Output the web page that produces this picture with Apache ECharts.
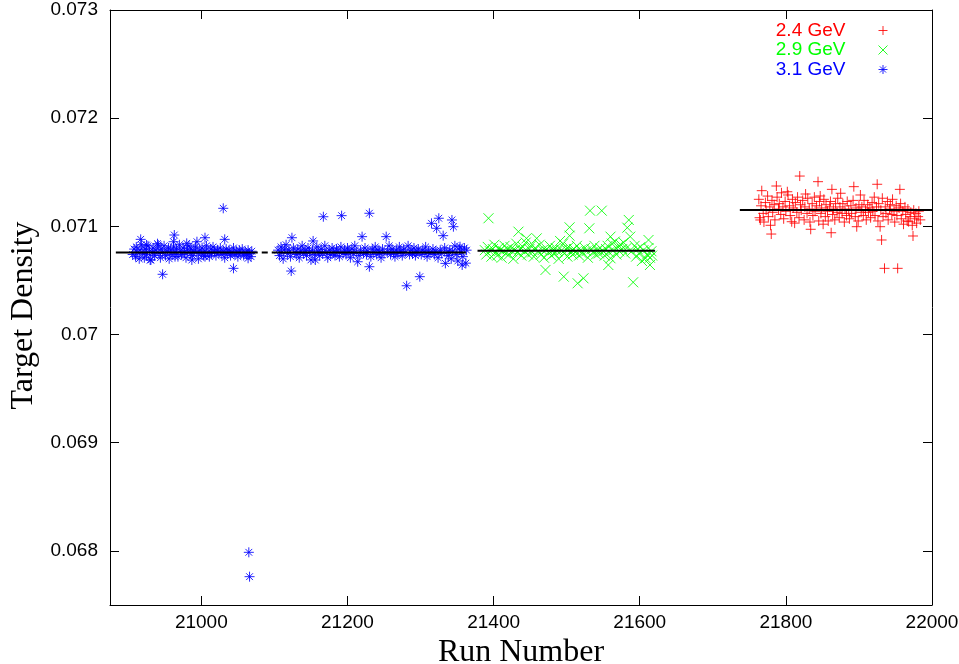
<!DOCTYPE html>
<html>
<head>
<meta charset="utf-8">
<script src="https://cdn.jsdelivr.net/npm/echarts@6/dist/echarts.min.js"></script>
<style>html,body{margin:0;padding:0;background:#fff}#c{width:959px;height:664px}</style>
</head>
<body>
<div id="c"></div>
<script>
const xTicks = [21000, 21200, 21400, 21600, 21800, 22000];
const yTicks = [0.068, 0.069, 0.07, 0.071, 0.072, 0.073];
const seriesNames = ['2.4 GeV', '2.9 GeV', '3.1 GeV'];

// 3.1 GeV (blue asterisks)
const blue31 = [
[20906,0.07074],[20908,0.07079],[20910,0.07072],[20911,0.07081],[20913,0.07076],[20915,0.07070],[20916,0.07078],[20918,0.07083],[20920,0.07075],[20922,0.07071],
[20923,0.07079],[20925,0.07074],[20927,0.07082],[20929,0.07077],[20931,0.07069],[20933,0.07076],[20934,0.07080],[20936,0.07073],[20938,0.07078],[20940,0.07084],
[20942,0.07075],[20944,0.07071],[20945,0.07079],[20947,0.07076],[20949,0.07082],[20951,0.07073],[20953,0.07077],[20955,0.07080],[20956,0.07070],[20958,0.07078],
[20960,0.07074],[20962,0.07081],[20964,0.07076],[20966,0.07079],[20968,0.07072],[20970,0.07083],[20971,0.07077],[20973,0.07074],[20975,0.07080],[20977,0.07076],
[20979,0.07071],[20981,0.07078],[20983,0.07082],[20985,0.07075],[20986,0.07079],[20988,0.07073],[20990,0.07077],[20992,0.07081],[20994,0.07076],[20996,0.07070],
[20998,0.07078],[21000,0.07075],[21001,0.07080],[21003,0.07073],[21005,0.07077],[21007,0.07082],[21009,0.07076],[21011,0.07072],[21013,0.07079],[21014,0.07075],
[21016,0.07081],[21018,0.07077],[21020,0.07073],[21022,0.07078],[21024,0.07076],[21026,0.07080],[21028,0.07074],[21030,0.07077],[21032,0.07071],[21034,0.07079],
[21036,0.07075],[21038,0.07078],[21040,0.07073],[21042,0.07076],[21044,0.07080],[21046,0.07074],[21048,0.07077],[21050,0.07072],[21052,0.07078],[21054,0.07075],
[21056,0.07079],[21058,0.07073],[21060,0.07076],[21062,0.07074],[21064,0.07078],[21066,0.07075],[21068,0.07072],[21069,0.07077],
[21030,0.071167],[20947,0.070557],[21044,0.070612],[20917,0.070880],[20963,0.070920],[20962,0.070858],[21005,0.070895],[21032,0.070880],[20980,0.070843],[20994,0.070858],
[20925,0.070828],[20941,0.070828],[20930,0.070689],[20987,0.070689],[20964,0.070720],[21005,0.070720],[21064,0.070705],[21065,0.067987],[21066,0.067762],
[21105,0.07078],[21107,0.07073],[21109,0.07081],[21110,0.07076],[21112,0.07070],[21114,0.07079],[21116,0.07083],[21118,0.07075],[21120,0.07078],[21122,0.07072],
[21126,0.07080],[21128,0.07076],[21130,0.07074],[21132,0.07079],[21134,0.07071],[21136,0.07077],[21138,0.07082],[21140,0.07075],[21142,0.07078],[21144,0.07073],
[21146,0.07080],[21148,0.07076],[21150,0.07069],[21152,0.07078],[21155,0.07074],[21158,0.07081],[21160,0.07077],[21162,0.07073],[21164,0.07079],[21166,0.07075],
[21169,0.07082],[21171,0.07076],[21173,0.07071],[21175,0.07078],[21177,0.07074],[21179,0.07080],[21181,0.07076],[21183,0.07073],[21185,0.07079],[21187,0.07077],
[21189,0.07072],[21191,0.07081],[21194,0.07075],[21196,0.07078],[21198,0.07074],[21200,0.07080],[21202,0.07077],[21204,0.07071],[21206,0.07079],[21208,0.07075],
[21210,0.07082],[21212,0.07076],[21216,0.07073],[21218,0.07078],[21222,0.07075],[21224,0.07080],[21226,0.07074],[21228,0.07077],[21232,0.07072],[21234,0.07079],
[21236,0.07076],[21238,0.07081],[21240,0.07074],[21242,0.07078],[21244,0.07076],[21246,0.07071],[21248,0.07079],[21250,0.07075],[21255,0.07077],[21257,0.07082],
[21259,0.07074],[21261,0.07079],[21263,0.07076],[21265,0.07072],[21267,0.07078],[21269,0.07075],[21271,0.07081],[21273,0.07077],[21275,0.07073],[21277,0.07079],
[21279,0.07076],[21283,0.07082],[21285,0.07074],[21287,0.07078],[21289,0.07075],[21291,0.07080],[21293,0.07073],[21295,0.07077],[21297,0.07079],[21301,0.07074],
[21303,0.07078],[21305,0.07076],[21307,0.07081],[21309,0.07072],[21311,0.07077],[21313,0.07075],[21317,0.07079],[21319,0.07074],[21321,0.07077],[21324,0.07071],
[21327,0.07078],[21329,0.07075],[21333,0.07080],[21336,0.07076],[21338,0.07073],[21340,0.07078],[21342,0.07070],[21344,0.07077],[21347,0.07082],[21349,0.07074],
[21351,0.07068],[21353,0.07079],[21356,0.07076],[21358,0.07072],[21360,0.07080],[21362,0.07066],[21363,0.07078],
[21167,0.071089],[21192,0.071099],[21230,0.071121],[21315,0.071028],[21325,0.071075],[21322,0.070982],[21331,0.070914],[21343,0.071059],[21345,0.070997],[21124,0.070895],
[21153,0.070865],[21220,0.070905],[21253,0.070905],[21123,0.070587],[21230,0.070627],[21281,0.070451],[21299,0.070535],[21214,0.070673],[21334,0.070658],[21357,0.070643],
[21156,0.070689],[21354,0.070812]
];

// 2.9 GeV (green crosses)
const green29 = [
[21388,0.07078],[21390,0.07074],[21392,0.07081],[21395,0.07077],[21397,0.07072],[21399,0.07079],[21401,0.07083],[21403,0.07076],[21405,0.07073],[21407,0.07080],
[21409,0.07078],[21411,0.07071],[21413,0.07077],[21415,0.07082],[21417,0.07075],[21419,0.07079],[21421,0.07074],[21423,0.07081],[21425,0.07077],[21427,0.07070],
[21429,0.07078],[21431,0.07084],[21433,0.07076],[21436,0.07079],[21438,0.07073],[21440,0.07081],[21442,0.07077],[21444,0.07085],[21447,0.07074],[21449,0.07079],
[21451,0.07082],[21453,0.07076],[21455,0.07072],[21457,0.07080],[21461,0.07077],[21463,0.07083],[21465,0.07074],[21467,0.07078],[21469,0.07071],[21473,0.07079],
[21475,0.07076],[21477,0.07082],[21479,0.07073],[21481,0.07078],[21483,0.07075],[21485,0.07080],[21487,0.07077],[21489,0.07070],[21493,0.07078],[21495,0.07084],
[21497,0.07075],[21499,0.07079],[21501,0.07072],[21503,0.07081],[21506,0.07077],[21508,0.07074],[21510,0.07079],[21512,0.07076],[21514,0.07082],[21517,0.07073],
[21519,0.07078],[21521,0.07075],[21525,0.07080],[21527,0.07077],[21529,0.07071],[21534,0.07079],[21536,0.07076],[21538,0.07082],[21540,0.07074],[21542,0.07078],
[21544,0.07075],[21546,0.07080],[21550,0.07077],[21552,0.07073],[21554,0.07079],[21556,0.07082],[21558,0.07076],[21562,0.07084],[21564,0.07078],[21566,0.07086],
[21568,0.07074],[21570,0.07081],[21572,0.07077],[21574,0.07083],[21576,0.07079],[21578,0.07085],[21580,0.07075],[21582,0.07080],[21589,0.07077],[21593,0.07082],
[21595,0.07072],[21597,0.07079],[21599,0.07075],[21601,0.07081],[21603,0.07068],[21605,0.07078],[21610,0.07074],[21612,0.07080],[21614,0.07071],[21616,0.07077],
[21617,0.07073],
[21393,0.071075],[21434,0.070951],[21532,0.071145],[21548,0.071145],[21504,0.070991],[21504,0.070914],[21531,0.070982],[21585,0.071059],[21583,0.070988],[21587,0.070905],
[21612,0.070874],[21445,0.070889],[21459,0.070889],[21491,0.070865],[21560,0.070905],[21471,0.070597],[21496,0.070535],[21515,0.070474],[21523,0.070520],[21591,0.070483],
[21557,0.070643],[21614,0.070643],[21560,0.070705],[21608,0.070705]
];

// 2.4 GeV (red plus)
const red24 = [
[21763,0.07125],[21764,0.07108],[21766,0.07119],[21767,0.07133],[21769,0.07112],[21770,0.07104],[21772,0.07122],[21773,0.07115],[21775,0.07128],[21776,0.07109],
[21778,0.07118],[21779,0.07101],[21781,0.07124],[21782,0.07113],[21784,0.07120],[21785,0.07106],[21788,0.07127],[21790,0.07116],[21791,0.07121],[21793,0.07111],
[21794,0.07131],[21796,0.07118],[21797,0.07107],[21799,0.07123],[21800,0.07114],[21803,0.07129],[21805,0.07119],[21806,0.07110],[21809,0.07125],[21810,0.07117],
[21812,0.07103],[21813,0.07122],[21815,0.07113],[21816,0.07127],[21818,0.07108],[21820,0.07120],[21821,0.07115],[21823,0.07124],[21825,0.07106],[21826,0.07118],
[21829,0.07112],[21830,0.07126],[21832,0.07116],[21833,0.07104],[21836,0.07121],[21837,0.07110],[21839,0.07127],[21840,0.07114],[21842,0.07119],[21845,0.07105],
[21846,0.07123],[21848,0.07112],[21849,0.07117],[21851,0.07102],[21852,0.07125],[21854,0.07109],[21855,0.07120],[21857,0.07114],[21858,0.07105],[21860,0.07118],
[21861,0.07123],[21864,0.07111],[21865,0.07116],[21867,0.07106],[21868,0.07121],[21870,0.07113],[21871,0.07126],[21873,0.07108],[21874,0.07118],[21877,0.07112],
[21878,0.07121],[21880,0.07104],[21881,0.07116],[21883,0.07110],[21884,0.07123],[21886,0.07115],[21887,0.07107],[21889,0.07119],[21890,0.07112],[21892,0.07124],
[21895,0.07109],[21896,0.07117],[21899,0.07105],[21900,0.07120],[21903,0.07113],[21904,0.07118],[21906,0.07110],[21907,0.07124],[21909,0.07115],[21910,0.07106],
[21912,0.07120],[21913,0.07113],[21915,0.07117],[21916,0.07108],[21918,0.07122],[21919,0.07114],[21921,0.07127],[21922,0.07110],[21924,0.07118],[21926,0.07105],
[21927,0.07121],[21930,0.07115],[21932,0.07126],[21933,0.07109],[21936,0.07118],[21937,0.07112],[21939,0.07123],[21940,0.07106],[21942,0.07116],[21943,0.07120],
[21945,0.07111],[21946,0.07125],[21948,0.07114],[21949,0.07104],[21951,0.07119],[21952,0.07110],[21955,0.07117],[21957,0.07121],[21958,0.07107],[21960,0.07114],
[21961,0.07102],[21963,0.07118],[21964,0.07111],[21966,0.07105],[21967,0.07116],[21970,0.07109],[21971,0.07113],[21973,0.07101],[21975,0.07115],[21976,0.07107],
[21978,0.07112],[21979,0.07103],[21981,0.07109],[21982,0.07114],[21984,0.07106],
[21819,0.071465],[21844,0.071413],[21787,0.071373],[21893,0.071367],[21925,0.071389],[21956,0.071342],[21863,0.071342],[21802,0.071320],[21827,0.071299],[21847,0.071281],
[21875,0.071306],[21902,0.071290],[21780,0.070929],[21862,0.070941],[21931,0.070874],[21974,0.070911],[21935,0.070612],[21953,0.070612],[21834,0.070973],[21929,0.070997],
[21765,0.071059],[21808,0.071043],[21897,0.070997],[21968,0.071043]
];

// Mean density lines per beam energy
const meanBlueA = [[20883, 0.070759], [21069, 0.070759]];
const meanBlueGap = [[21069, 0.070759], [21105, 0.070759]];
const meanBlueB = [[21105, 0.070759], [21362, 0.070759]];
const meanGreen = [[21378, 0.070775], [21621, 0.070775]];
const meanRed = [[21737, 0.071151], [22000, 0.071151]];

const PLUS = 'path://M0,5L10,5M5,0L5,10';
const CROSS = 'path://M0,0L10,10M10,0L0,10';
const STAR = 'path://M0,5L10,5M5,0L5,10M1.6,1.6L8.4,8.4M8.4,1.6L1.6,8.4';

const chart = echarts.init(document.getElementById('c'), null, {renderer: 'canvas'});
const tickFont = {fontFamily: 'Liberation Sans', fontSize: 19, color: '#000'};
const axisLine = {show: true, lineStyle: {color: '#000', width: 1}};

function scatter(name, data, symbol, color) {
  return {
    name: name, type: 'scatter', data: data, symbol: symbol, symbolSize: 10,
    itemStyle: {color: color, borderColor: color, borderWidth: 1, opacity: 0.85},
    emphasis: {disabled: true}, z: 2
  };
}
function meanLine(data, dashed) {
  return {
    type: 'line', data: data, symbol: 'none', silent: true, z: 5,
    lineStyle: {color: '#000', width: 2, type: dashed ? [6, 4] : 'solid'}
  };
}

chart.setOption({
  animation: false,
  backgroundColor: '#fff',
  grid: {left: 110, right: 27, top: 10, bottom: 59, containLabel: false, outerBoundsMode: 'none'},
  legend: {
    orient: 'vertical', right: 66, top: 16, align: 'right',
    itemWidth: 9, itemHeight: 9, itemGap: 0.5,
    itemStyle: {borderWidth: 1},
    textStyle: {fontFamily: 'Liberation Sans', fontSize: 19, lineHeight: 18, padding: [0, 28, 0, 0]},
    data: [
      {name: seriesNames[0], icon: PLUS, textStyle: {color: '#ff0000'}},
      {name: seriesNames[1], icon: CROSS, textStyle: {color: '#00ff00'}},
      {name: seriesNames[2], icon: STAR, textStyle: {color: '#0000ff'}}
    ],
    selectedMode: false
  },
  xAxis: [{
    type: 'value', min: 20875, max: 22000, position: 'bottom',
    name: 'Run Number', nameLocation: 'middle', nameGap: 27,
    nameTextStyle: {fontFamily: 'Liberation Serif', fontSize: 32, color: '#000'},
    axisLine: axisLine,
    axisTick: {show: true, inside: true, length: 9, customValues: xTicks, lineStyle: {color: '#000'}},
    axisLabel: {show: true, customValues: xTicks, margin: 8, formatter: v => String(v), ...tickFont},
    splitLine: {show: false}
  }, {
    type: 'value', min: 20875, max: 22000, position: 'top',
    axisLine: axisLine,
    axisTick: {show: true, inside: true, length: 9, customValues: xTicks, lineStyle: {color: '#000'}},
    axisLabel: {show: false},
    splitLine: {show: false}
  }],
  yAxis: [{
    type: 'value', min: 0.0675, max: 0.073, position: 'left',
    name: 'Target Density', nameLocation: 'middle', nameGap: 67,
    nameTextStyle: {fontFamily: 'Liberation Serif', fontSize: 32, color: '#000', padding: [0, 16, 0, 0]},
    axisLine: axisLine,
    axisTick: {show: true, inside: true, length: 9, customValues: yTicks, lineStyle: {color: '#000'}},
    axisLabel: {show: true, customValues: yTicks, margin: 12, formatter: v => String(v), ...tickFont},
    splitLine: {show: false}
  }, {
    type: 'value', min: 0.0675, max: 0.073, position: 'right',
    axisLine: axisLine,
    axisTick: {show: true, inside: true, length: 9, customValues: yTicks, lineStyle: {color: '#000'}},
    axisLabel: {show: false},
    splitLine: {show: false}
  }],
  series: [
    scatter(seriesNames[2], blue31, STAR, '#0000ff'),
    scatter(seriesNames[1], green29, CROSS, '#00ff00'),
    scatter(seriesNames[0], red24, PLUS, '#ff0000'),
    meanLine(meanBlueA, false),
    meanLine(meanBlueGap, true),
    meanLine(meanBlueB, false),
    meanLine(meanGreen, false),
    meanLine(meanRed, false)
  ]
});
</script>
</body>
</html>
